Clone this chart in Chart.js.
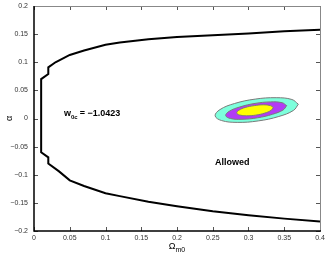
<!DOCTYPE html>
<html>
<head>
<meta charset="utf-8">
<script src="https://cdn.jsdelivr.net/npm/chart.js@4.4.1/dist/chart.umd.min.js"></script>
<style>
	html, body { margin: 0; padding: 0; background: #fff; }
	#wrap { width: 327px; height: 256px; }
</style>
</head>
<body>
<div id="wrap"><canvas id="c"></canvas></div>
<script>
// tick values and labels
const xTicks = [0, 0.05, 0.1, 0.15, 0.2, 0.25, 0.3, 0.35, 0.4];
const xTickLabels = ['0', '0.05', '0.1', '0.15', '0.2', '0.25', '0.3', '0.35', '0.4'];
const yTicks = [-0.2, -0.15, -0.1, -0.05, 0, 0.05, 0.1, 0.15, 0.2];
const yTickLabels = ['\u22120.2', '\u22120.15', '\u22120.1', '\u22120.05', '0', '0.05', '0.1', '0.15', '0.2'];

// boundary of the excluded region (upper branch, then lower branch)
const boundaryX = [0.4, 0.35, 0.3, 0.25, 0.2, 0.16, 0.12, 0.1, 0.07, 0.05, 0.03, 0.02, 0.02, 0.01,
	0.01, 0.02, 0.02, 0.035, 0.05, 0.07, 0.1, 0.12, 0.16, 0.2, 0.25, 0.3, 0.35, 0.4];
const boundaryY = [0.158, 0.155, 0.151, 0.148, 0.145, 0.141, 0.135, 0.131, 0.121, 0.113, 0.1, 0.091, 0.079, 0.07,
	-0.06, -0.069, -0.08, -0.094, -0.11, -0.12, -0.133, -0.138, -0.148, -0.156, -0.165, -0.172, -0.178, -0.183];

// confidence contours (outer, middle, inner)
const outerX = [0.3697, 0.3629, 0.3424, 0.3136, 0.2842, 0.2622, 0.2533, 0.2600, 0.2806, 0.3094, 0.3387, 0.3607, 0.3697];
const outerY = [0.0254, 0.0144, 0.0036, -0.0043, -0.0069, -0.0036, 0.0048, 0.0158, 0.0267, 0.0345, 0.0370, 0.0338, 0.0254];
const middleX = [0.3534, 0.3485, 0.3336, 0.3124, 0.2909, 0.2747, 0.2681, 0.2730, 0.2880, 0.3091, 0.3306, 0.3469, 0.3534];
const middleY = [0.0229, 0.0153, 0.0075, 0.0012, -0.0014, 0.0000, 0.0052, 0.0128, 0.0206, 0.0268, 0.0295, 0.0281, 0.0229];
const innerX = [0.3347, 0.3317, 0.3228, 0.3101, 0.2972, 0.2874, 0.2835, 0.2864, 0.2954, 0.3081, 0.3210, 0.3308, 0.3347];
const innerY = [0.0194, 0.0146, 0.0096, 0.0060, 0.0048, 0.0062, 0.0098, 0.0146, 0.0196, 0.0229, 0.0244, 0.0229, 0.0194];

function toPoints(xs, ys) {
	return xs.map(function(x, i) { return { x: x, y: ys[i] }; });
}

function contour(xs, ys, color, order) {
	return {
		data: toPoints(xs, ys),
		showLine: true,
		fill: 'shape',
		backgroundColor: color,
		borderColor: '#7a7a7a',
		borderWidth: 1,
		pointRadius: 0,
		tension: 0.4,
		order: order
	};
}

const FONT = '"Liberation Sans", Arial, Helvetica, sans-serif';

// draws the box, inward ticks and the text labels
const decorPlugin = {
	id: 'decor',
	afterDraw: function(chart) {
		const ctx = chart.ctx;
		const a = chart.chartArea;
		const xs = chart.scales.x;
		const ys = chart.scales.y;
		const len = 4;

		ctx.save();
		ctx.strokeStyle = '#555';
		ctx.lineWidth = 1;
		ctx.beginPath();
		xTicks.forEach(function(v) {
			const px = Math.round(xs.getPixelForValue(v)) + 0.5;
			ctx.moveTo(px, a.bottom); ctx.lineTo(px, a.bottom - len);
			ctx.moveTo(px, a.top); ctx.lineTo(px, a.top + len);
		});
		yTicks.forEach(function(v) {
			const py = Math.round(ys.getPixelForValue(v)) + 0.5;
			ctx.moveTo(a.left, py); ctx.lineTo(a.left + len, py);
			ctx.moveTo(a.right, py); ctx.lineTo(a.right - len, py);
		});
		ctx.stroke();

		// top and right edges
		ctx.strokeStyle = '#888';
		ctx.beginPath();
		ctx.moveTo(a.left, a.top + 0.5); ctx.lineTo(a.right + 0.5, a.top + 0.5);
		ctx.lineTo(a.right + 0.5, a.bottom);
		ctx.stroke();
		// left and bottom edges
		ctx.strokeStyle = '#000';
		ctx.lineWidth = 1.5;
		ctx.beginPath();
		ctx.moveTo(a.left, a.top); ctx.lineTo(a.left, a.bottom);
		ctx.lineTo(a.right + 1, a.bottom);
		ctx.stroke();

		ctx.fillStyle = '#000';
		ctx.textBaseline = 'alphabetic';
		ctx.textAlign = 'left';

		// w_0c annotation
		let x = xs.getPixelForValue(0.042);
		let y = ys.getPixelForValue(0.005);
		ctx.font = 'bold 9px ' + FONT;
		ctx.fillText('w', x, y);
		x += ctx.measureText('w').width;
		ctx.font = 'bold 6px ' + FONT;
		ctx.fillText('0c', x, y + 3.5);
		x += ctx.measureText('0c').width + 2;
		ctx.font = 'bold 9px ' + FONT;
		ctx.fillText('= \u22121.0423', x, y);

		ctx.fillText('Allowed', xs.getPixelForValue(0.2531), ys.getPixelForValue(-0.0827));

		// x axis title
		ctx.font = '9px ' + FONT;
		const w1 = ctx.measureText('\u03a9').width;
		ctx.font = '7px ' + FONT;
		const w2 = ctx.measureText('m0').width;
		x = (a.left + a.right) / 2 - (w1 + w2) / 2;
		ctx.font = '9px ' + FONT;
		ctx.fillText('\u03a9', x, 249);
		ctx.font = '7px ' + FONT;
		ctx.fillText('m0', x + w1, 252);

		// y axis title
		ctx.translate(12, (a.top + a.bottom) / 2);
		ctx.rotate(-Math.PI / 2);
		ctx.font = '9px ' + FONT;
		ctx.textAlign = 'center';
		ctx.fillText('\u03b1', 0, 0);
		ctx.restore();
	}
};

const ctx = document.getElementById('c').getContext('2d');
const chart = new Chart(ctx, {
	type: 'scatter',
	data: {
		datasets: [
			{
				data: toPoints(boundaryX, boundaryY),
				showLine: true,
				borderColor: '#000',
				borderWidth: 2,
				pointRadius: 0,
				tension: 0,
				fill: false,
				order: 0
			},
			contour(innerX, innerY, '#ffff00', 1),
			contour(middleX, middleY, '#b23cf5', 2),
			contour(outerX, outerY, '#7dffdc', 3)
		]
	},
	options: {
		responsive: true,
		maintainAspectRatio: false,
		animation: false,
		events: [],
		layout: { padding: { top: 6, right: 7, left: 0, bottom: 0 } },
		plugins: {
			legend: { display: false },
			tooltip: { enabled: false }
		},
		scales: {
			x: {
				type: 'linear',
				min: 0,
				max: 0.4,
				afterBuildTicks: function(scale) {
					scale.ticks = xTicks.map(function(v) { return { value: v }; });
				},
				afterFit: function(scale) {
					scale.height = 25;
					scale.paddingLeft = 0;
					scale.paddingRight = 0;
				},
				ticks: {
					padding: 3,
					color: '#333',
					font: { size: 7, family: FONT },
					maxRotation: 0,
					autoSkip: false,
					callback: function(value, index) { return xTickLabels[index]; }
				},
				grid: { display: false, drawTicks: false, tickLength: 0 },
				border: { display: false }
			},
			y: {
				type: 'linear',
				min: -0.2,
				max: 0.2,
				afterBuildTicks: function(scale) {
					scale.ticks = yTicks.map(function(v) { return { value: v }; });
				},
				afterFit: function(scale) {
					scale.width = 34;
					scale.paddingTop = 0;
					scale.paddingBottom = 0;
				},
				ticks: {
					padding: 6,
					color: '#333',
					font: { size: 7, family: FONT },
					autoSkip: false,
					callback: function(value, index) { return yTickLabels[index]; }
				},
				grid: { display: false, drawTicks: false, tickLength: 0 },
				border: { display: false }
			}
		}
	},
	plugins: [decorPlugin]
});
</script>
</body>
</html>
